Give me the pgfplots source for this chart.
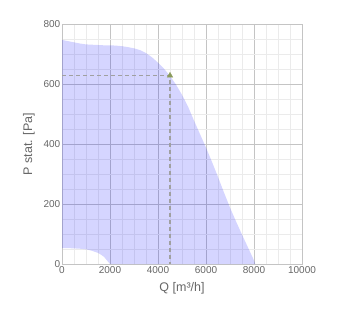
\documentclass[border=0pt]{standalone}
\usepackage{fontspec}
\setmainfont{Liberation Sans}
\usepackage{pgfplots}
\pgfplotsset{compat=1.18}
\definecolor{txt}{HTML}{666666}
\definecolor{majgrid}{HTML}{C4C4C4}
\definecolor{mingrid}{HTML}{EBEBEB}
\definecolor{mk}{HTML}{8A9A5B}
\definecolor{dashcol}{HTML}{A0A0A0}
\begin{document}
\begin{tikzpicture}
\begin{axis}[
  at={(0,0)}, anchor=south west,
  scale only axis, width=240pt, height=240pt,
  xmin=0, xmax=10000, ymin=0, ymax=800,
  xtick={0,2000,...,10000}, ytick={0,200,...,800},
  scaled x ticks=false, scaled y ticks=false,
  minor x tick num=3, minor y tick num=3,
  grid=both,
  major grid style={majgrid, line width=0.8pt},
  minor grid style={mingrid, line width=0.6pt},
  axis line style={majgrid, line width=0.8pt},
  tick style={draw=none},
  axis on top=false,
  /pgf/number format/assume math mode=true,
  /pgf/number format/1000 sep={},
  ticklabel style={font=\fontsize{10}{12}\selectfont, text=txt},
  yticklabel style={inner sep=1.5pt},
  xticklabel style={inner sep=2.5pt},
  label style={font=\fontsize{12.5}{14}\selectfont, text=txt},
  xlabel={Q [m³/h]},
  ylabel={P stat. [Pa]},
  xlabel style={at={(axis description cs:0.5,-0.1)}, anchor=center},
  ylabel style={at={(axis description cs:-0.1375,0.5)}, anchor=center},
]
\addplot[draw=none, fill=blue, fill opacity=0.165] coordinates {
 (0,747) (250,743) (500,739) (750,735) (1000,732) (1250,731) (1500,730)
 (1750,729) (2000,729) (2250,728) (2500,726) (2750,723) (3000,719)
 (3250,713) (3500,703) (3750,689) (4000,671) (4250,651) (4500,627)
 (4750,598) (5000,564) (5250,525) (5500,478) (5750,433) (6000,388)
 (6250,340) (6500,290) (6750,238) (7000,188) (7250,142) (7500,98)
 (7750,55) (8000,12) (8050,0)
 (2000,0) (1875,12) (1750,24) (1625,31) (1500,37) (1250,44) (1000,49)
 (750,51) (500,52) (250,53) (0,53)
} -- cycle;
\addplot[dashcol, line width=1.1pt, dash pattern=on 4pt off 3pt] coordinates {(0,628) (4500,628) (4500,0)};
\addplot[only marks, mark=triangle*, mark size=3.2pt, color=mk] coordinates {(4500,628)};
\end{axis}
\path[use as bounding box] (-62pt,-57pt) rectangle (293pt,264pt);
\end{tikzpicture}
\end{document}
